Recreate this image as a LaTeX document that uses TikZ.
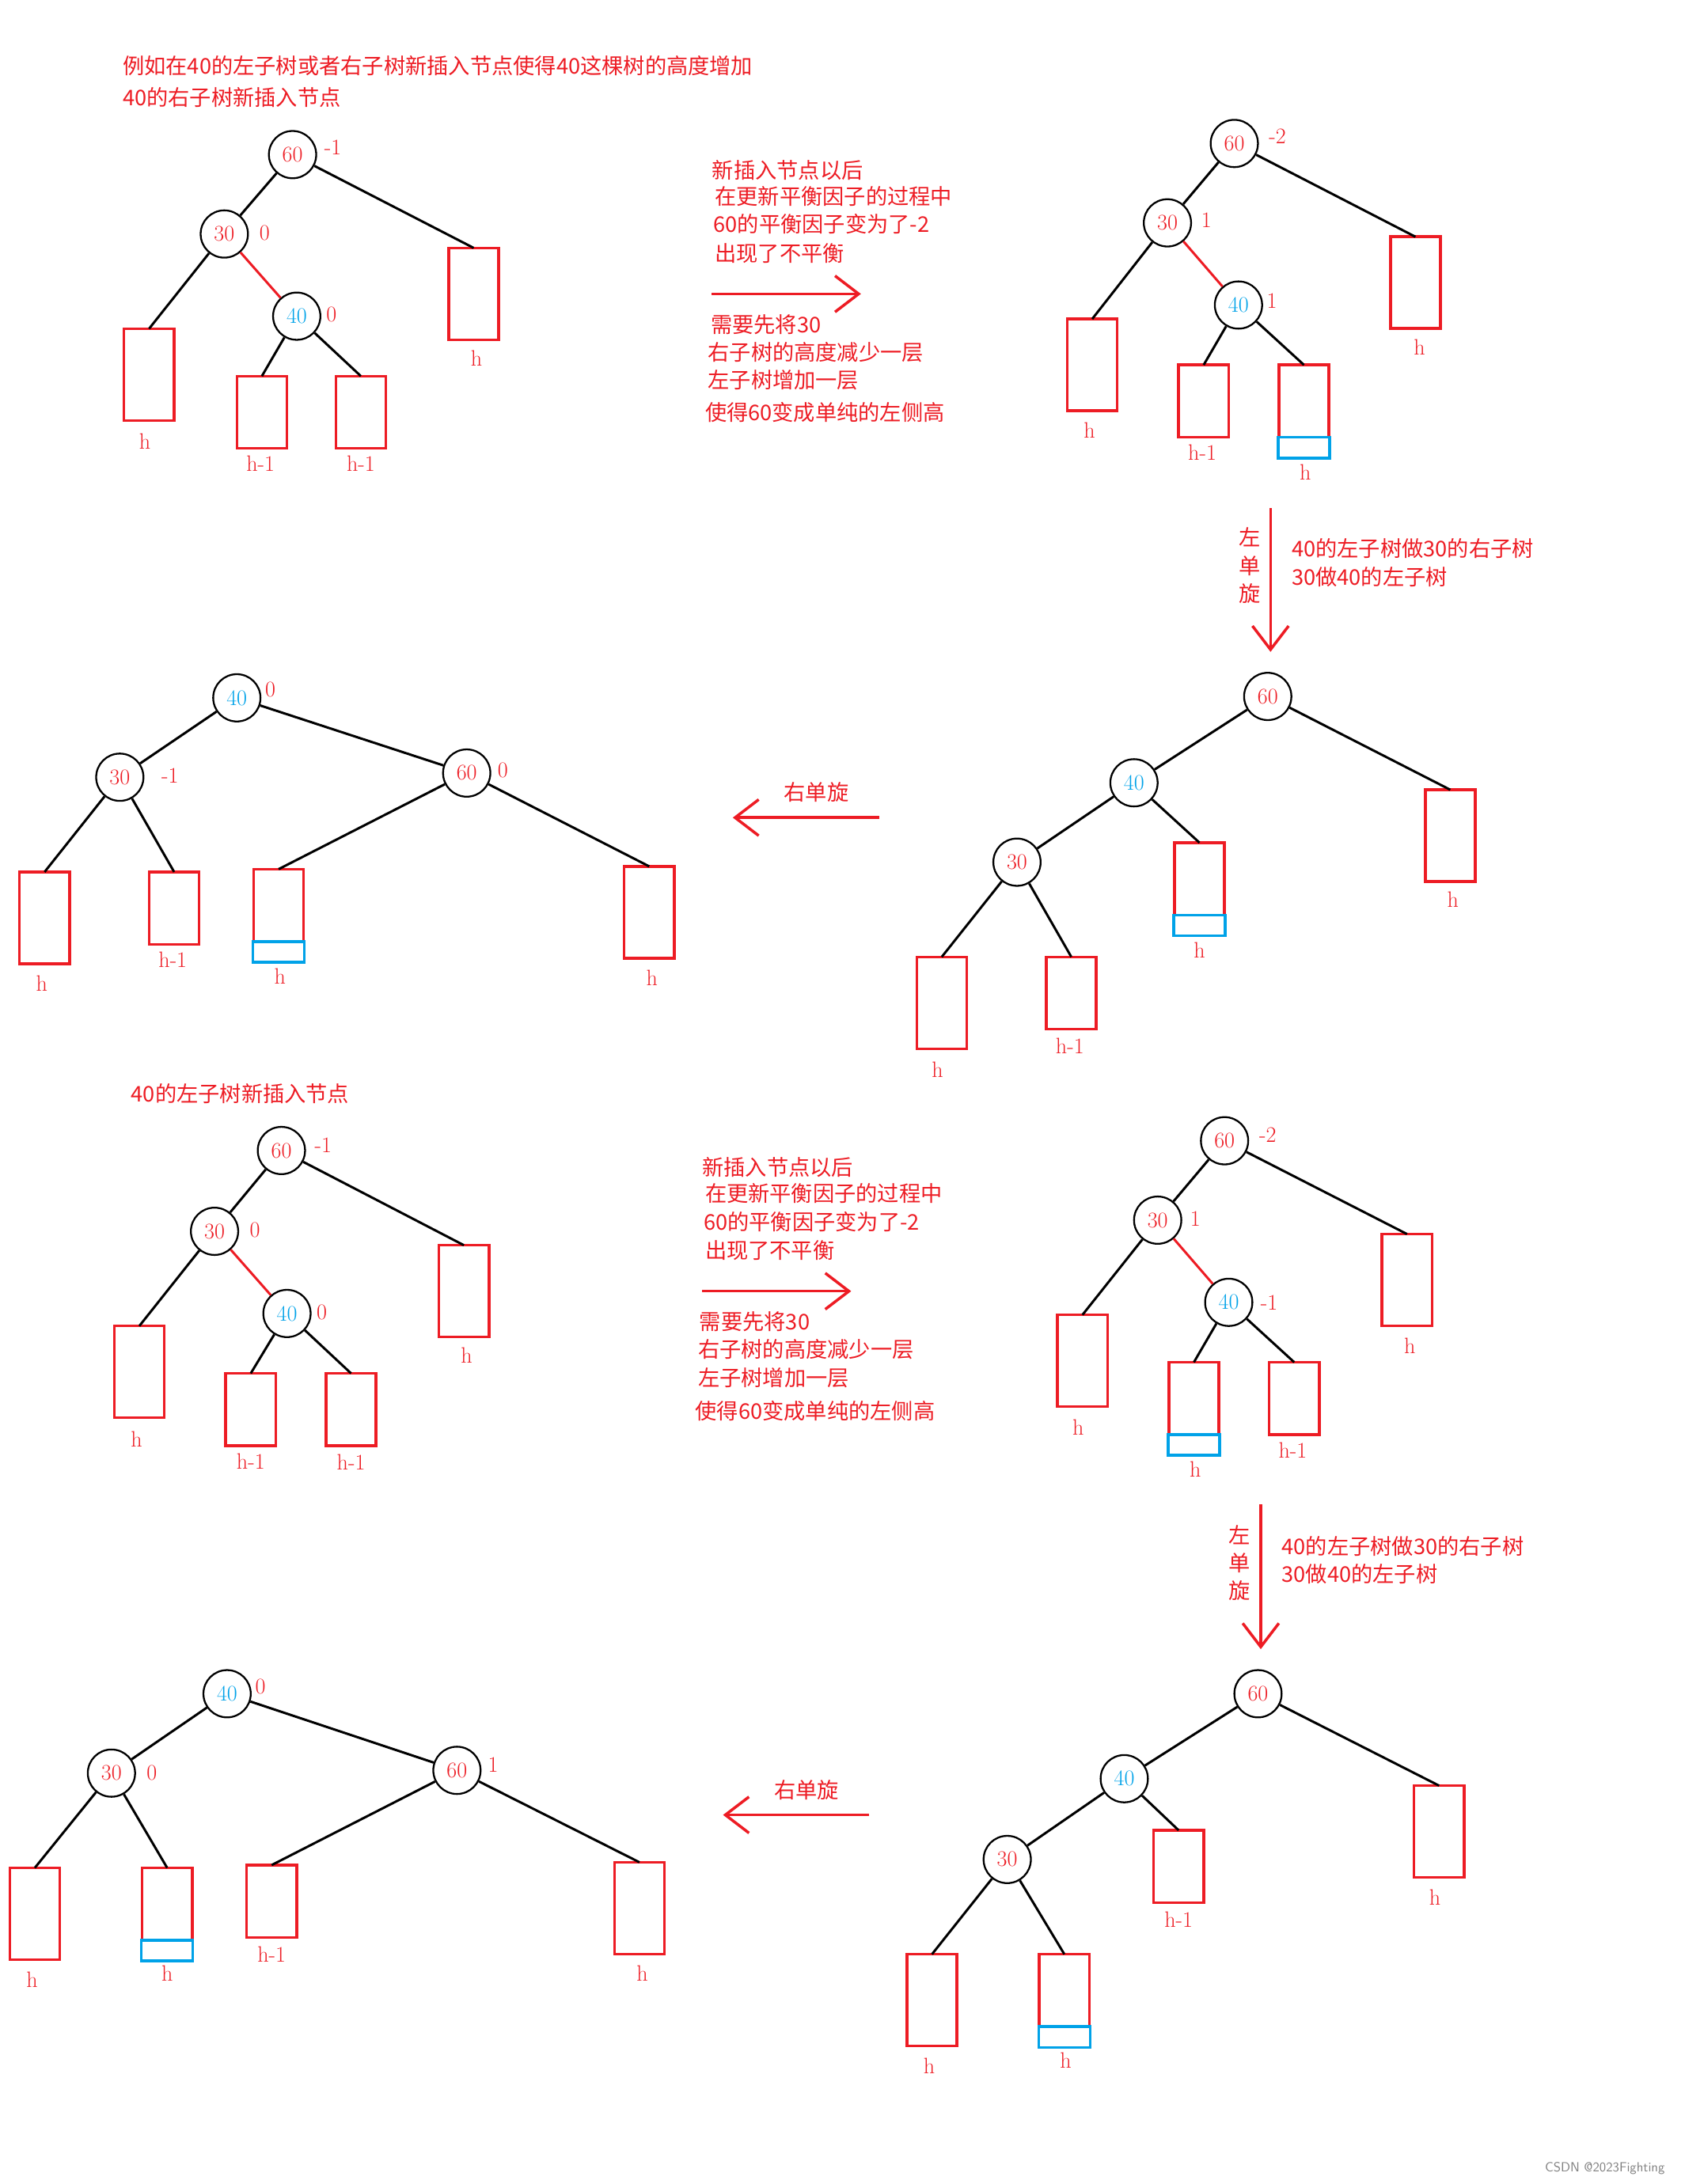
\documentclass[tikz,border=0pt]{standalone}
\usepackage{fontspec}
\newfontfamily\cjk{Noto Sans CJK SC}
\usetikzlibrary{arrows.meta}
\definecolor{paintred}{RGB}{237,28,36}
\definecolor{paintblue}{RGB}{0,162,232}
\tikzset{x=0.352mm,y=-0.352mm}
\tikzset{key/.style={draw,circle,line width=1.3pt,minimum size=34pt,inner sep=0pt,text=paintred,font=\fontsize{16}{16}\selectfont}}
\tikzset{newkey/.style={key,text=paintblue}}
\tikzset{bf/.style={text=paintred,inner sep=0pt,font=\fontsize{16}{16}\selectfont}}
\tikzset{tallbox/.style={draw=paintred,line width=2pt,minimum width=36pt,minimum height=66pt,inner sep=0pt,outer sep=0pt,anchor=north}}
\tikzset{shortbox/.style={tallbox,minimum height=52pt}}
\tikzset{addbox/.style={draw=paintblue,line width=2pt,minimum width=37pt,minimum height=15pt,inner sep=0pt,outer sep=0pt,anchor=north}}
\tikzset{hlab/.style={text=paintred,inner sep=0pt,font=\fontsize{16}{16}\selectfont}}
\tikzset{note/.style={text=paintred,inner sep=0pt,anchor=west,font=\cjk\fontsize{15.5}{20}\selectfont}}
\tikzset{link/.style={line width=1.7pt}}
\tikzset{hotlink/.style={link,draw=paintred}}
\tikzset{turn/.style={draw=paintred,line width=2pt,-{Straight Barb[length=17pt,width=26pt]}}}

\begin{document}
\begin{tikzpicture}
\useasboundingbox (0,0) rectangle (1209,1568);
\node[note,name=t1] at (88,47) {例如在40的左子树或者右子树新插入节点使得40这棵树的高度增加};
\node[note,name=t2] at (88,70) {40的右子树新插入节点};

\node[key,name=a60] at (210,111) {60};
\node[key,name=a30] at (161,168) {30};
\node[newkey,name=a40] at (213,227) {40};
\node[bf,name=fa60] at (239,106) {-1};
\node[bf,name=fa30] at (190,167) {0};
\node[bf,name=fa40] at (238,226) {0};
\node[tallbox,name=aL] at (107,236) {};
\node[shortbox,name=aM] at (188,270) {};
\node[shortbox,name=aN] at (259,270) {};
\node[tallbox,name=aR] at (340,178) {};
\node[hlab,name=laL] at (104,317) {h};
\node[hlab,name=laM] at (187,333) {h-1};
\node[hlab,name=laN] at (259,333) {h-1};
\node[hlab,name=laR] at (342,257) {h};
\draw[link] (a60) to (a30);
\draw[link] (a60) to (aR.north);
\draw[link] (a30) to (aL.north);
\draw[hotlink] (a30) to (a40);
\draw[link] (a40) to (aM.north);
\draw[link] (a40) to (aN.north);

\node[note,name=s1] at (511,122) {新插入节点以后};
\node[note,name=s2] at (513,141) {在更新平衡因子的过程中};
\node[note,name=s3] at (512,161) {60的平衡因子变为了-2};
\node[note,name=s4] at (513,182) {出现了不平衡};
\coordinate (pA1) at (511,211);
\coordinate (pA2) at (618,211);
\draw[turn] (pA1) to (pA2);
\node[note,name=s5] at (510,233) {需要先将30};
\node[note,name=s6] at (508,253) {右子树的高度减少一层};
\node[note,name=s7] at (508,273) {左子树增加一层};
\node[note,name=s8] at (506,296) {使得60变成单纯的左侧高};

\node[key,name=b60] at (886,103) {60};
\node[key,name=b30] at (838,160) {30};
\node[newkey,name=b40] at (889,219) {40};
\node[bf,name=fb60] at (917,98) {-2};
\node[bf,name=fb30] at (866,158) {1};
\node[bf,name=fb40] at (913,216) {1};
\node[tallbox,name=bL] at (784,229) {};
\node[shortbox,name=bM] at (864,262) {};
\node[shortbox,name=bN] at (936,262) {};
\node[addbox,name=bX] at (bN.south) {};
\node[tallbox,name=bR] at (1016,170) {};
\node[hlab,name=lbL] at (782,309) {h};
\node[hlab,name=lbM] at (863,325) {h-1};
\node[hlab,name=lbN] at (937,339) {h};
\node[hlab,name=lbR] at (1019,249) {h};
\draw[link] (b60) to (b30);
\draw[link] (b60) to (bR.north);
\draw[link] (b30) to (bL.north);
\draw[hotlink] (b30) to (b40);
\draw[link] (b40) to (bM.north);
\draw[link] (b40) to (bN.north);

\coordinate (pB1) at (912,365);
\coordinate (pB2) at (912,468);
\draw[turn] (pB1) to (pB2);
\node[note,anchor=center,align=center,name=r1] at (897,406) {左\\单\\旋};
\node[note,name=r2] at (927,394) {40的左子树做30的右子树};
\node[note,name=r3] at (927,414) {30做40的左子树};

\node[key,name=c60] at (910,500) {60};
\node[newkey,name=c40] at (814,562) {40};
\node[key,name=c30] at (730,619) {30};
\node[tallbox,name=cR] at (1041,567) {};
\node[shortbox,name=cM] at (861,605) {};
\node[addbox,name=cX] at (cM.south) {};
\node[tallbox,name=cL] at (676,687) {};
\node[shortbox,name=cN] at (769,687) {};
\node[hlab,name=lcR] at (1043,646) {h};
\node[hlab,name=lcM] at (861,682) {h};
\node[hlab,name=lcL] at (673,768) {h};
\node[hlab,name=lcN] at (768,751) {h-1};
\draw[link] (c60) to (c40);
\draw[link] (c60) to (cR.north);
\draw[link] (c40) to (c30);
\draw[link] (c40) to (cM.north);
\draw[link] (c30) to (cL.north);
\draw[link] (c30) to (cN.north);

\coordinate (pC1) at (631,587);
\coordinate (pC2) at (526,587);
\draw[turn] (pC1) to (pC2);
\node[note,anchor=center,name=q1] at (586,569) {右单旋};

\node[newkey,name=d40] at (170,501) {40};
\node[key,name=d30] at (86,558) {30};
\node[key,name=d60] at (335,555) {60};
\node[bf,name=fd40] at (194,495) {0};
\node[bf,name=fd30] at (122,557) {-1};
\node[bf,name=fd60] at (361,553) {0};
\node[tallbox,name=dL] at (32,626) {};
\node[shortbox,name=dM] at (125,626) {};
\node[shortbox,name=dN] at (200,624) {};
\node[addbox,name=dX] at (dN.south) {};
\node[tallbox,name=dR] at (466,622) {};
\node[hlab,name=ldL] at (30,706) {h};
\node[hlab,name=ldM] at (124,689) {h-1};
\node[hlab,name=ldN] at (201,701) {h};
\node[hlab,name=ldR] at (468,702) {h};
\draw[link] (d40) to (d30);
\draw[link] (d40) to (d60);
\draw[link] (d30) to (dL.north);
\draw[link] (d30) to (dM.north);
\draw[link] (d60) to (dN.north);
\draw[link] (d60) to (dR.north);

\node[note,name=t3] at (94,785) {40的左子树新插入节点};

\node[key,name=e60] at (202,826) {60};
\node[key,name=e30] at (154,884) {30};
\node[newkey,name=e40] at (206,943) {40};
\node[bf,name=fe60] at (232,822) {-1};
\node[bf,name=fe30] at (183,883) {0};
\node[bf,name=fe40] at (231,942) {0};
\node[tallbox,name=eL] at (100,952) {};
\node[shortbox,name=eM] at (180,986) {};
\node[shortbox,name=eN] at (252,986) {};
\node[tallbox,name=eR] at (333,894) {};
\node[hlab,name=leL] at (98,1033) {h};
\node[hlab,name=leM] at (180,1049) {h-1};
\node[hlab,name=leN] at (252,1050) {h-1};
\node[hlab,name=leR] at (335,973) {h};
\draw[link] (e60) to (e30);
\draw[link] (e60) to (eR.north);
\draw[link] (e30) to (eL.north);
\draw[hotlink] (e30) to (e40);
\draw[link] (e40) to (eM.north);
\draw[link] (e40) to (eN.north);

\node[note,name=u1] at (504,838) {新插入节点以后};
\node[note,name=u2] at (506,857) {在更新平衡因子的过程中};
\node[note,name=u3] at (505,877) {60的平衡因子变为了-2};
\node[note,name=u4] at (506,898) {出现了不平衡};
\coordinate (pD1) at (504,927);
\coordinate (pD2) at (611,927);
\draw[turn] (pD1) to (pD2);
\node[note,name=u5] at (502,949) {需要先将30};
\node[note,name=u6] at (501,969) {右子树的高度减少一层};
\node[note,name=u7] at (501,989) {左子树增加一层};
\node[note,name=u8] at (499,1013) {使得60变成单纯的左侧高};

\node[key,name=f60] at (879,819) {60};
\node[key,name=f30] at (831,876) {30};
\node[newkey,name=f40] at (882,935) {40};
\node[bf,name=ff60] at (910,815) {-2};
\node[bf,name=ff30] at (858,875) {1};
\node[bf,name=ff40] at (911,935) {-1};
\node[tallbox,name=fL] at (777,944) {};
\node[shortbox,name=fM] at (857,978) {};
\node[addbox,name=fX] at (fM.south) {};
\node[shortbox,name=fN] at (929,978) {};
\node[tallbox,name=fR] at (1010,886) {};
\node[hlab,name=lfL] at (774,1025) {h};
\node[hlab,name=lfM] at (858,1055) {h};
\node[hlab,name=lfN] at (928,1041) {h-1};
\node[hlab,name=lfR] at (1012,966) {h};
\draw[link] (f60) to (f30);
\draw[link] (f60) to (fR.north);
\draw[link] (f30) to (fL.north);
\draw[hotlink] (f30) to (f40);
\draw[link] (f40) to (fM.north);
\draw[link] (f40) to (fN.north);

\coordinate (pE1) at (905,1080);
\coordinate (pE2) at (905,1184);
\draw[turn] (pE1) to (pE2);
\node[note,anchor=center,align=center,name=v1] at (890,1122) {左\\单\\旋};
\node[note,name=v2] at (920,1110) {40的左子树做30的右子树};
\node[note,name=v3] at (920,1130) {30做40的左子树};

\node[key,name=g60] at (903,1216) {60};
\node[newkey,name=g40] at (807,1277) {40};
\node[key,name=g30] at (723,1335) {30};
\node[tallbox,name=gR] at (1033,1282) {};
\node[shortbox,name=gM] at (846,1314) {};
\node[tallbox,name=gL] at (669,1403) {};
\node[shortbox,name=gN] at (764,1403) {};
\node[addbox,name=gX] at (gN.south) {};
\node[hlab,name=lgR] at (1030,1362) {h};
\node[hlab,name=lgM] at (846,1378) {h-1};
\node[hlab,name=lgL] at (667,1483) {h};
\node[hlab,name=lgN] at (765,1479) {h};
\draw[link] (g60) to (g40);
\draw[link] (g60) to (gR.north);
\draw[link] (g40) to (g30);
\draw[link] (g40) to (gM.north);
\draw[link] (g30) to (gL.north);
\draw[link] (g30) to (gN.north);

\coordinate (pF1) at (624,1303);
\coordinate (pF2) at (519,1303);
\draw[turn] (pF1) to (pF2);
\node[note,anchor=center,name=w1] at (579,1285) {右单旋};

\node[newkey,name=k40] at (163,1216) {40};
\node[key,name=k30] at (80,1273) {30};
\node[key,name=k60] at (328,1271) {60};
\node[bf,name=fk40] at (187,1211) {0};
\node[bf,name=fk30] at (109,1273) {0};
\node[bf,name=fk60] at (354,1267) {1};
\node[tallbox,name=kL] at (25,1341) {};
\node[shortbox,name=kM] at (120,1341) {};
\node[addbox,name=kX] at (kM.south) {};
\node[shortbox,name=kN] at (195,1339) {};
\node[tallbox,name=kR] at (459,1337) {};
\node[hlab,name=lkL] at (23,1421) {h};
\node[hlab,name=lkM] at (120,1417) {h};
\node[hlab,name=lkN] at (195,1403) {h-1};
\node[hlab,name=lkR] at (461,1417) {h};
\draw[link] (k40) to (k30);
\draw[link] (k40) to (k60);
\draw[link] (k30) to (kL.north);
\draw[link] (k30) to (kM.north);
\draw[link] (k60) to (kN.north);
\draw[link] (k60) to (kR.north);

\node[text=gray,inner sep=0pt,font=\sffamily\fontsize{9.5}{10}\selectfont,name=mark] at (1152,1557) {CSDN @2023Fighting};
\end{tikzpicture}
\end{document}
